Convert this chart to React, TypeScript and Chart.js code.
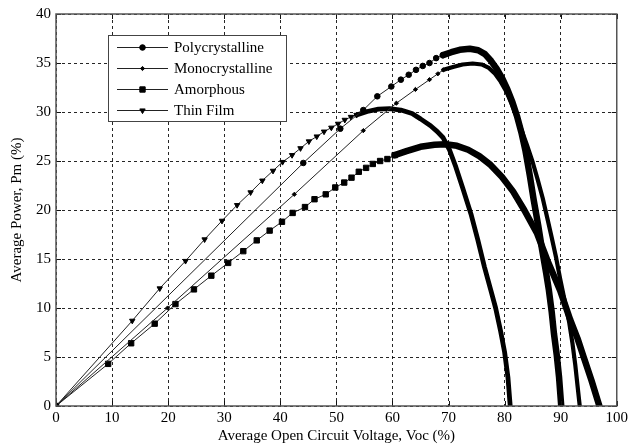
import React, { useEffect, useRef } from 'react';
import { Chart, registerables } from 'chart.js';
import { drawPoint } from 'chart.js/helpers';

Chart.register(...registerables);

// ---- data ----
const seriesNames = ['Polycrystalline', 'Monocrystalline', 'Amorphous', 'Thin Film'];
const xTickValues = [0, 10, 20, 30, 40, 50, 60, 70, 80, 90, 100];
const yTickValues = [0, 5, 10, 15, 20, 25, 30, 35, 40];

const polyV = [0, 44.1, 50.7, 54.8, 57.3, 59.8, 61.5, 62.9, 64.2, 65.4, 66.6, 67.8, 69.0, 70.5, 72.0, 73.8, 75.3, 76.5, 77.6, 78.6, 79.6, 80.5, 81.4, 82.2, 83.0, 83.7, 84.5, 85.2, 86.0, 86.7, 87.4, 87.9, 88.4, 88.8, 89.3, 89.7, 90.1];
const polyP = [0, 24.8, 28.3, 30.2, 31.6, 32.6, 33.3, 33.8, 34.3, 34.7, 35.0, 35.5, 35.8, 36.1, 36.35, 36.45, 36.3, 35.9, 35.2, 34.4, 33.4, 32.3, 31.0, 29.6, 27.9, 26.1, 23.5, 21.0, 18.4, 15.9, 13.6, 11.8, 9.6, 7.4, 5.2, 3.0, 0];

const monoV = [0, 19.9, 42.5, 54.8, 60.7, 64.1, 66.6, 68.1, 69.1, 70.8, 72.5, 74.3, 75.9, 77.2, 78.3, 79.3, 80.3, 81.2, 82.1, 83.0, 84.0, 85.0, 85.9, 86.8, 87.6, 88.4, 89.2, 89.9, 90.7, 91.5, 92.1, 92.6, 93.0, 93.4];
const monoP = [0, 10.0, 21.6, 28.1, 30.9, 32.3, 33.3, 33.9, 34.3, 34.6, 34.85, 34.95, 34.85, 34.5, 33.9, 33.1, 32.1, 30.9, 29.6, 28.2, 26.6, 24.9, 23.1, 21.2, 19.2, 17.2, 15.1, 13.0, 10.8, 8.6, 6.4, 4.2, 2.1, 0];

const amorV = [0, 9.3, 13.4, 17.6, 21.3, 24.6, 27.7, 30.7, 33.4, 35.8, 38.1, 40.3, 42.2, 44.4, 46.1, 48.1, 49.8, 51.4, 52.7, 54.0, 55.3, 56.5, 57.8, 59.1, 60.4, 62.5, 65.0, 67.5, 69.5, 71.5, 73.5, 75.5, 77.5, 79.5, 81.5, 83.5, 85.8, 87.6, 89.9, 91.7, 93.0, 94.1, 95.5, 96.9];
const amorP = [0, 4.3, 6.4, 8.4, 10.4, 11.9, 13.3, 14.6, 15.8, 16.9, 17.9, 18.8, 19.7, 20.3, 21.1, 21.6, 22.3, 22.8, 23.3, 23.9, 24.3, 24.7, 25.0, 25.2, 25.6, 26.0, 26.45, 26.65, 26.7, 26.55, 26.15, 25.5, 24.6, 23.4, 21.9, 20.0, 17.6, 14.9, 11.8, 8.8, 6.9, 5.0, 2.6, 0];

const thinV = [0, 13.6, 18.5, 23.1, 26.5, 29.6, 32.3, 34.7, 36.8, 38.7, 40.4, 42.1, 43.6, 45.1, 46.5, 47.8, 49.1, 50.3, 51.5, 52.6, 53.6, 55.5, 57.5, 59.5, 61.5, 63.5, 65.0, 66.8, 68.0, 69.0, 70.2, 71.3, 72.5, 74.0, 75.2, 76.4, 77.5, 78.4, 79.3, 80.0, 80.6, 81.0];
const thinP = [0, 8.7, 12.0, 14.8, 17.0, 18.9, 20.5, 21.8, 23.0, 24.0, 24.9, 25.6, 26.3, 27.0, 27.5, 28.0, 28.4, 28.8, 29.2, 29.5, 29.7, 30.05, 30.3, 30.35, 30.2, 29.85, 29.3, 28.6, 28.0, 27.4, 26.1, 24.4, 22.3, 19.6, 17.0, 14.2, 11.9, 10.0, 7.6, 5.5, 2.9, 0];

// number of leading points drawn as individual markers (the rest is drawn as a dense band)
const markerCounts = [13, 9, 25, 21];

// ---- styles ----
const FONT = '"Liberation Serif", "Times New Roman", serif';
const styles = [
  { pointStyle: 'circle', radius: 2.8, rotation: 0, band: 6.5 },
  { pointStyle: 'rectRot', radius: 2.1, rotation: 0, band: 4.2 },
  { pointStyle: 'rect', radius: 3.8, rotation: 0, band: 6.5 },
  { pointStyle: 'triangle', radius: 3.1, rotation: 180, band: 4.8 },
];

const toPoints = (v: number[], p: number[]) => v.map((x, i) => ({ x, y: p[i] }));

const frameAndTicks = {
  id: 'frameAndTicks',
  afterDatasetsDraw(chart: any) {
    const { ctx, chartArea } = chart;
    const { left, right, top, bottom } = chartArea;
    const xs = chart.scales.x;
    const ys = chart.scales.y;
    ctx.save();
    ctx.strokeStyle = '#111';
    ctx.lineWidth = 1;
    ctx.setLineDash([]);
    ctx.beginPath();
    xTickValues.forEach((v) => {
      const px = Math.round(xs.getPixelForValue(v)) + 0.5;
      ctx.moveTo(px, bottom);
      ctx.lineTo(px, bottom - 5);
      ctx.moveTo(px, top);
      ctx.lineTo(px, top + 5);
    });
    yTickValues.forEach((v) => {
      const py = Math.round(ys.getPixelForValue(v)) + 0.5;
      ctx.moveTo(left, py);
      ctx.lineTo(left + 5, py);
      ctx.moveTo(right, py);
      ctx.lineTo(right - 5, py);
    });
    ctx.stroke();
    ctx.strokeStyle = '#555';
    ctx.lineWidth = 1.5;
    ctx.strokeRect(left, top, right - left, bottom - top);
    ctx.restore();
  },
};

const boxLegend = {
  id: 'boxLegend',
  afterDraw(chart: any) {
    const ctx = chart.ctx;
    ctx.save();
    ctx.setLineDash([]);
    const x0 = 108.5, y0 = 35.5, w = 178, h = 86;
    ctx.fillStyle = '#fff';
    ctx.fillRect(x0, y0, w, h);
    ctx.strokeStyle = '#444';
    ctx.lineWidth = 1;
    ctx.strokeRect(x0, y0, w, h);
    seriesNames.forEach((name, i) => {
      const y = 47.5 + i * 21;
      ctx.strokeStyle = '#222';
      ctx.lineWidth = 1;
      ctx.beginPath();
      ctx.moveTo(117, y);
      ctx.lineTo(168, y);
      ctx.stroke();
      const st = styles[i];
      ctx.fillStyle = '#000';
      ctx.strokeStyle = '#000';
      drawPoint(ctx, { pointStyle: st.pointStyle, radius: st.radius, rotation: st.rotation, borderWidth: 1 } as any, 142.5, y);
      ctx.fillStyle = '#000';
      ctx.font = '15px ' + FONT;
      ctx.textBaseline = 'middle';
      ctx.textAlign = 'left';
      ctx.fillText(name, 174, y + 1);
    });
    ctx.restore();
  },
};

export default function App() {
  const ref = useRef<HTMLCanvasElement | null>(null);

  useEffect(() => {
    document.body.style.margin = '0';
    if (!ref.current) return;
    const allData = [toPoints(polyV, polyP), toPoints(monoV, monoP), toPoints(amorV, amorP), toPoints(thinV, thinP)];
    const datasets = allData.map((data, i) => {
      const st = styles[i];
      const mc = markerCounts[i];
      return {
        label: seriesNames[i],
        data,
        showLine: true,
        borderColor: '#222',
        backgroundColor: '#000',
        borderWidth: 1,
        borderCapStyle: 'round',
        borderJoinStyle: 'round',
        pointStyle: st.pointStyle,
        pointRotation: st.rotation,
        pointBackgroundColor: '#000',
        pointBorderColor: '#000',
        pointBorderWidth: 1,
        pointRadius: (c: any) => (c.dataIndex < mc ? st.radius : 0),
        pointHoverRadius: 0,
        tension: 0,
        segment: {
          borderWidth: (c: any) => (c.p0DataIndex >= mc - 1 ? st.band : 1),
          borderColor: (c: any) => (c.p0DataIndex >= mc - 1 ? '#000' : '#222'),
        },
      };
    });

    const chart = new Chart(ref.current, {
      type: 'scatter',
      data: { datasets: datasets as any },
      options: {
        animation: false,
        responsive: false,
        devicePixelRatio: 1,
        layout: { padding: { top: 14, right: 11, left: 0, bottom: 0 } },
        plugins: { legend: { display: false }, tooltip: { enabled: false } },
        events: [],
        scales: {
          x: {
            type: 'linear',
            min: 0,
            max: 100,
            afterFit: (s: any) => { s.height = 39; },
            afterBuildTicks: (s: any) => { s.ticks = xTickValues.map((v) => ({ value: v })); },
            ticks: { color: '#000', font: { family: FONT, size: 15 }, padding: 3, autoSkip: false, maxRotation: 0 },
            grid: { color: 'rgba(0,0,0,0.85)', lineWidth: 1, drawTicks: false },
            border: { display: false, dash: [3, 3] },
            title: { display: true, text: 'Average Open Circuit Voltage, Voc (%)', color: '#000', font: { family: FONT, size: 15 }, padding: { top: 0, bottom: 0 } },
          },
          y: {
            type: 'linear',
            min: 0,
            max: 40,
            afterFit: (s: any) => { s.width = 56; },
            afterBuildTicks: (s: any) => { s.ticks = yTickValues.map((v) => ({ value: v })); },
            ticks: { color: '#000', font: { family: FONT, size: 15 }, padding: 5 },
            grid: { color: 'rgba(0,0,0,0.85)', lineWidth: 1, drawTicks: false },
            border: { display: false, dash: [3, 3] },
            title: { display: true, text: 'Average Power, Pm (%)', color: '#000', font: { family: FONT, size: 15 }, padding: { top: 8, bottom: 0 } },
          },
        },
      },
      plugins: [frameAndTicks, boxLegend],
    } as any);
    return () => chart.destroy();
  }, []);

  return (
    <div style={{ width: 631, height: 445 }}>
      <canvas ref={ref} width={631} height={445} style={{ display: 'block' }} />
    </div>
  );
}
